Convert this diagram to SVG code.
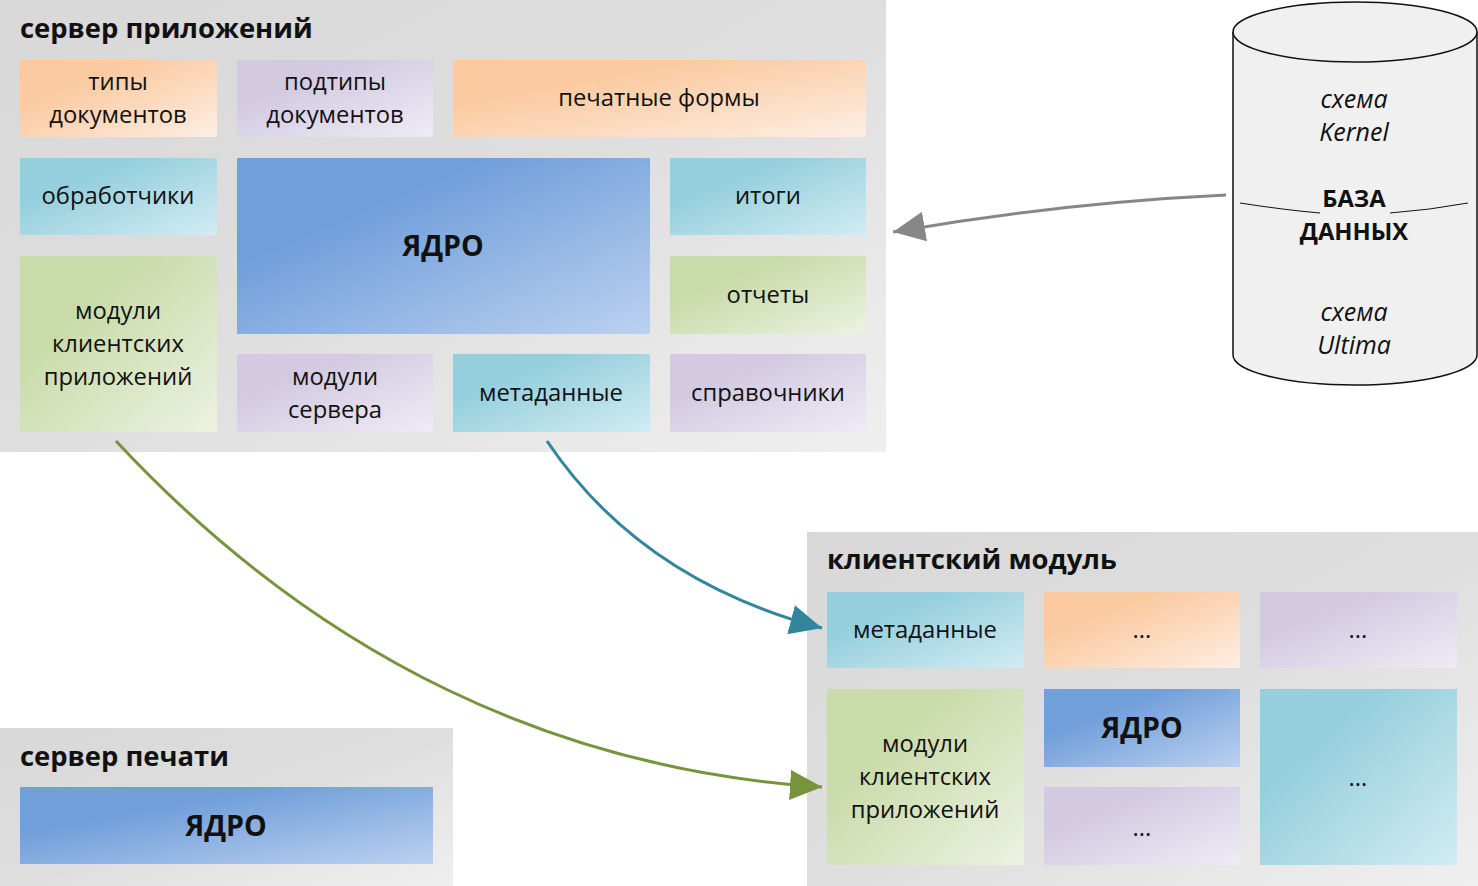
<svg xmlns="http://www.w3.org/2000/svg" width="1478" height="886" viewBox="0 0 1478 886">
<defs>
<linearGradient id="gGray" x1="0" y1="0" x2="1" y2="1"><stop offset="0" stop-color="#d8d8d8"/><stop offset="0.5" stop-color="#dedede"/><stop offset="1" stop-color="#efefef"/></linearGradient>
<linearGradient id="gOrange" x1="0" y1="0" x2="1" y2="1"><stop offset="0.3" stop-color="#fbcaa1"/><stop offset="1" stop-color="#fdeee3"/></linearGradient>
<linearGradient id="gPurple" x1="0" y1="0" x2="1" y2="1"><stop offset="0.3" stop-color="#d3cae1"/><stop offset="1" stop-color="#efebf5"/></linearGradient>
<linearGradient id="gTeal" x1="0" y1="0" x2="1" y2="1"><stop offset="0.3" stop-color="#95cfdd"/><stop offset="1" stop-color="#d2ecf3"/></linearGradient>
<linearGradient id="gGreen" x1="0" y1="0" x2="1" y2="1"><stop offset="0.3" stop-color="#c9dba9"/><stop offset="1" stop-color="#ecf2e1"/></linearGradient>
<linearGradient id="gBlue" x1="0" y1="0" x2="1" y2="1"><stop offset="0.3" stop-color="#709fda"/><stop offset="1" stop-color="#bcd1f0"/></linearGradient>
<marker id="mGray" markerUnits="userSpaceOnUse" markerWidth="34" markerHeight="30" refX="32" refY="15" orient="auto"><path d="M0,0 L32,15 L0,30 Z" fill="#878787"/></marker>
<marker id="mTeal" markerUnits="userSpaceOnUse" markerWidth="34" markerHeight="30" refX="32" refY="15" orient="auto"><path d="M0,0 L32,15 L0,30 Z" fill="#31859c"/></marker>
<marker id="mGreen" markerUnits="userSpaceOnUse" markerWidth="34" markerHeight="30" refX="32" refY="15" orient="auto"><path d="M0,0 L32,15 L0,30 Z" fill="#77933c"/></marker>
</defs>
<style>
text{font-family:"Open Sans","Noto Sans","DejaVu Sans",sans-serif;fill:#111;}
.t{font-size:23.8px;text-anchor:middle;}
.h{font-size:27.4px;font-weight:bold;}
.k{font-size:28.6px;font-weight:bold;text-anchor:middle;}
.i{font-size:25px;font-style:italic;text-anchor:middle;}
.b{font-size:23.8px;font-weight:bold;text-anchor:middle;}
.or{fill:url(#gOrange);} .pu{fill:url(#gPurple);} .te{fill:url(#gTeal);} .gr{fill:url(#gGreen);} .bl{fill:url(#gBlue);}
.cont{fill:url(#gGray);}
.conn{fill:none;stroke-width:3;}
</style>
<rect width="1478" height="886" fill="#ffffff"/>

<g id="app-server">
<rect class="cont" x="0" y="0" width="886" height="452"/>
<text class="h" x="20" y="38">сервер приложений</text>
</g>
<g id="doc-types"><rect class="or" x="20" y="60" width="197" height="77"/><text class="t" x="118" y="90">типы</text><text class="t" x="118" y="123">документов</text></g>
<g id="doc-subtypes"><rect class="pu" x="237" y="60" width="196" height="77"/><text class="t" x="335" y="90">подтипы</text><text class="t" x="335" y="123">документов</text></g>
<g id="print-forms"><rect class="or" x="453" y="60" width="413" height="77"/><text class="t" x="659" y="106">печатные формы</text></g>
<g id="handlers"><rect class="te" x="20" y="158" width="197" height="77"/><text class="t" x="118" y="204">обработчики</text></g>
<g id="core-app"><rect class="bl" x="237" y="158" width="413" height="176"/><text class="k" x="443" y="256">ЯДРО</text></g>
<g id="totals"><rect class="te" x="670" y="158" width="196" height="77"/><text class="t" x="768" y="204">итоги</text></g>
<g id="client-modules"><rect class="gr" x="20" y="256" width="197" height="176"/><text class="t" x="118" y="319">модули</text><text class="t" x="118" y="352">клиентских</text><text class="t" x="118" y="385">приложений</text></g>
<g id="reports"><rect class="gr" x="670" y="256" width="196" height="78"/><text class="t" x="768" y="303">отчеты</text></g>
<g id="server-modules"><rect class="pu" x="237" y="354" width="196" height="78"/><text class="t" x="335" y="385">модули</text><text class="t" x="335" y="418">сервера</text></g>
<g id="metadata-app"><rect class="te" x="453" y="354" width="197" height="78"/><text class="t" x="551" y="401">метаданные</text></g>
<g id="dictionaries"><rect class="pu" x="670" y="354" width="196" height="78"/><text class="t" x="768" y="401">справочники</text></g>

<g id="database">
<path d="M1233,32 L1233,355 A122,30 0 0 0 1477,355 L1477,32" fill="#f0f0f0" stroke="#111" stroke-width="1.5"/>
<ellipse cx="1355" cy="32" rx="122" ry="30" fill="#f0f0f0" stroke="#111" stroke-width="1.5"/>
<path d="M1240,203 Q1285,210 1320,213" fill="none" stroke="#111" stroke-width="1"/>
<path d="M1390,213 Q1430,210 1468,203" fill="none" stroke="#111" stroke-width="1"/>
<text class="i" x="1354" y="108">схема</text>
<text class="i" x="1354" y="141">Kernel</text>
<text class="b" x="1354" y="207">БАЗА</text>
<text class="b" x="1354" y="240">ДАННЫХ</text>
<text class="i" x="1354" y="321">схема</text>
<text class="i" x="1354" y="354">Ultima</text>
</g>

<g id="client-module">
<rect class="cont" x="807" y="532" width="671" height="354"/>
<text class="h" x="827" y="569">клиентский модуль</text>
</g>
<g id="metadata-client"><rect class="te" x="827" y="592" width="197" height="76"/><text class="t" x="925" y="638">метаданные</text></g>
<g id="dots-orange"><rect class="or" x="1044" y="592" width="196" height="76"/><text class="t" x="1142" y="638">...</text></g>
<g id="dots-purple-top"><rect class="pu" x="1260" y="592" width="197" height="76"/><text class="t" x="1358" y="638">...</text></g>
<g id="client-app-modules"><rect class="gr" x="827" y="689" width="197" height="176"/><text class="t" x="925" y="752">модули</text><text class="t" x="925" y="785">клиентских</text><text class="t" x="925" y="818">приложений</text></g>
<g id="core-client"><rect class="bl" x="1044" y="689" width="196" height="78"/><text class="k" x="1142" y="738">ЯДРО</text></g>
<g id="dots-purple-bottom"><rect class="pu" x="1044" y="787" width="196" height="78"/><text class="t" x="1142" y="836">...</text></g>
<g id="dots-teal"><rect class="te" x="1260" y="689" width="197" height="176"/><text class="t" x="1358" y="786">...</text></g>

<g id="print-server">
<rect class="cont" x="0" y="728" width="453" height="158"/>
<text class="h" x="20" y="766">сервер печати</text>
</g>
<g id="core-print"><rect class="bl" x="20" y="787" width="413" height="77"/><text class="k" x="226" y="836">ЯДРО</text></g>

<g id="connectors">
<path class="conn" d="M1226,195 Q1060,203 893,232" stroke="#878787" marker-end="url(#mGray)"/>
<path class="conn" d="M547,441 Q640,580 822,628" stroke="#31859c" marker-end="url(#mTeal)"/>
<path class="conn" d="M116,441 C320,660 560,770 822,787" stroke="#77933c" marker-end="url(#mGreen)"/>
</g>
</svg>
